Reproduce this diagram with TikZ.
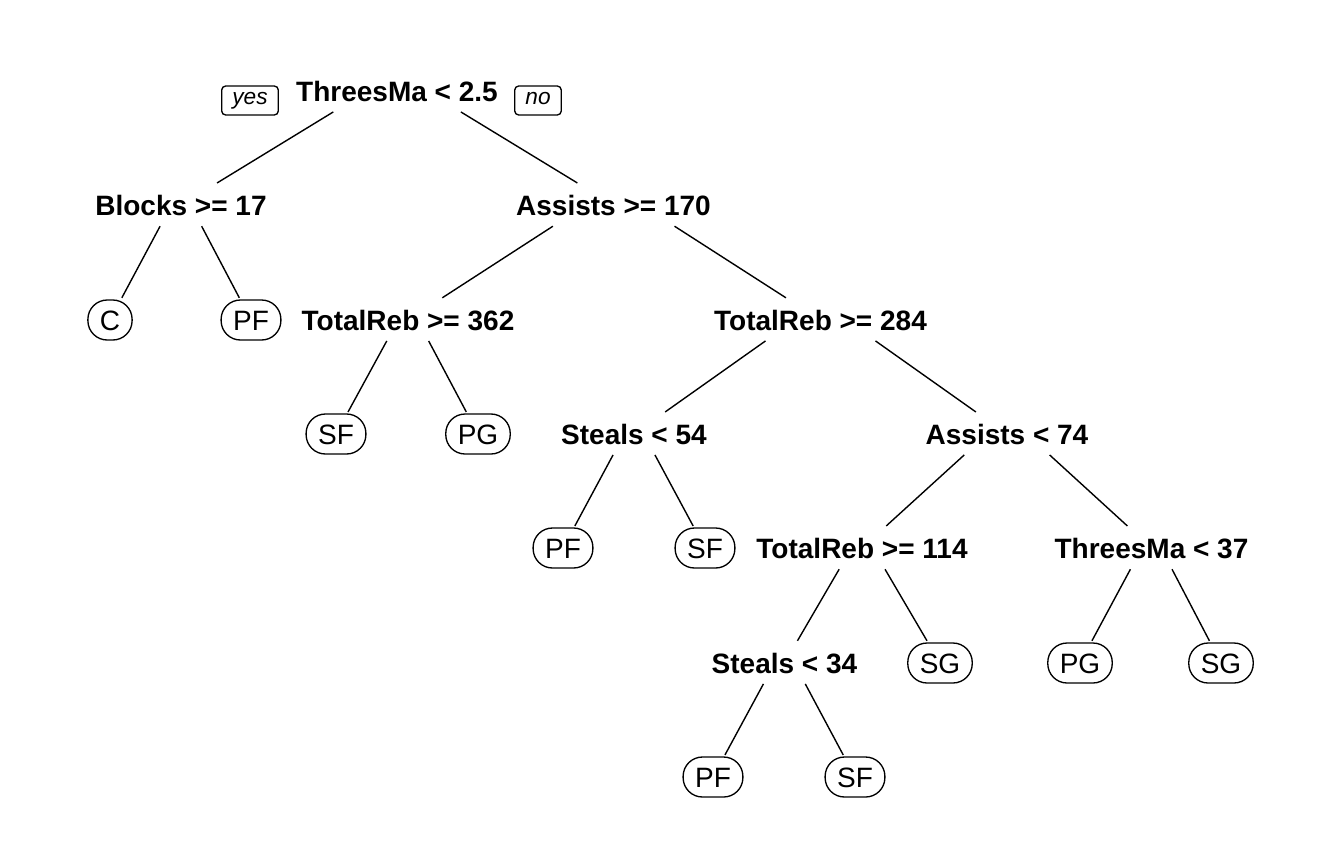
\documentclass[tikz,border=0pt]{standalone}
\usepackage{fontspec}
\setmainfont{Liberation Sans}
\usetikzlibrary{calc}
\newcommand\treenode[5]{%
  \node[#4] (#1) at (#2,#3) {#5};
  \coordinate (#1t) at (#2,#3-28);
  \coordinate (#1c) at (#2,#3-10);}
\newcommand\branch[2]{\draw[edge] ($(#1t)!0.295!(#2c)$) -- ($(#1t)!0.833!(#2c)$);}
\begin{document}
\begin{tikzpicture}[x=0.75pt,y=-0.75pt,
  split/.style={font=\fontsize{21}{25}\selectfont\bfseries, anchor=base, inner sep=0pt},
  leaf/.style={draw, line width=1pt, rounded corners=14.5pt, font=\fontsize{21}{25}\selectfont, anchor=base, inner xsep=9pt, inner ysep=0pt, minimum height=30pt, text height=15pt, text depth=0pt},
  tag/.style={draw, line width=1pt, rounded corners=3pt, font=\fontsize{17}{20}\selectfont\itshape, inner xsep=8pt, inner ysep=0pt, minimum height=21.75pt, text height=9pt, text depth=3.5pt},
  edge/.style={line width=1.05pt}]
\useasboundingbox[fill=white] (0,0) rectangle (1344,864);
% level 0
\treenode{r}{397}{101}{split}{ThreesMa < 2.5}
\node[tag] (yes) at (250,100.5) {yes};
\node[tag] (no) at (538,100.5) {no};
% level 1
\treenode{bl}{181}{215}{split}{Blocks >= 17}
\treenode{as}{613.5}{215}{split}{Assists >= 170}
% level 2
\treenode{c}{110}{330}{leaf}{C}
\treenode{pf1}{251}{330}{leaf}{PF}
\treenode{tr1}{408}{330}{split}{TotalReb >= 362}
\treenode{tr2}{820.5}{330}{split}{TotalReb >= 284}
% level 3
\treenode{sf1}{336}{444}{leaf}{SF}
\treenode{pg1}{478}{444}{leaf}{PG}
\treenode{st1}{634}{444}{split}{Steals < 54}
\treenode{as2}{1007}{444}{split}{Assists < 74}
% level 4
\treenode{pf2}{563}{558}{leaf}{PF}
\treenode{sf2}{705}{558}{leaf}{SF}
\treenode{tr3}{862}{558}{split}{TotalReb >= 114}
\treenode{tm}{1151.5}{558}{split}{ThreesMa < 37}
% level 5
\treenode{st2}{784.5}{673}{split}{Steals < 34}
\treenode{sg1}{940}{673}{leaf}{SG}
\treenode{pg2}{1080}{673}{leaf}{PG}
\treenode{sg2}{1221}{673}{leaf}{SG}
% level 6
\treenode{pf3}{713}{787}{leaf}{PF}
\treenode{sf3}{855}{787}{leaf}{SF}
% branches
\branch{r}{bl}\branch{r}{as}
\branch{bl}{c}\branch{bl}{pf1}
\branch{as}{tr1}\branch{as}{tr2}
\branch{tr1}{sf1}\branch{tr1}{pg1}
\branch{tr2}{st1}\branch{tr2}{as2}
\branch{st1}{pf2}\branch{st1}{sf2}
\branch{as2}{tr3}\branch{as2}{tm}
\branch{tr3}{st2}\branch{tr3}{sg1}
\branch{tm}{pg2}\branch{tm}{sg2}
\branch{st2}{pf3}\branch{st2}{sf3}
\end{tikzpicture}
\end{document}
